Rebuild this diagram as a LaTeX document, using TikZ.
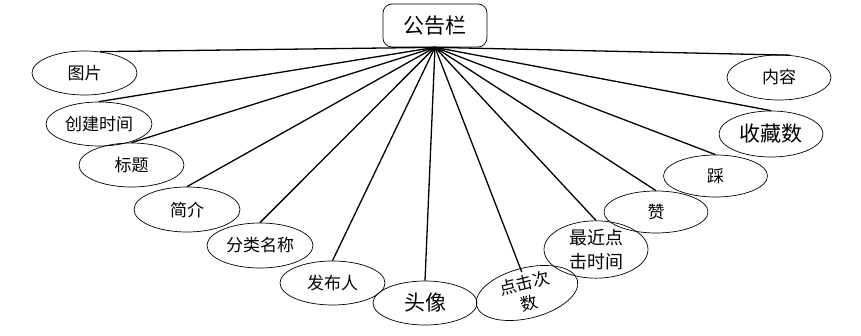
\documentclass[tikz,border=0pt]{standalone}
\usepackage{fontspec}
\newfontfamily\cjk{Noto Sans CJK SC}
\usetikzlibrary{shapes.geometric,calc}
\tikzset{
  attr/.style={draw, ellipse, line width=0.7pt, inner sep=0pt,
    minimum width=104pt, minimum height=44pt,
    font=\cjk\fontsize{17}{20}\selectfont, align=center},
  bigtext/.style={font=\cjk\fontsize{21}{24}\selectfont},
  rootbox/.style={draw, rounded corners=9pt, line width=0.7pt, inner sep=0pt,
    minimum width=104pt, minimum height=43pt,
    font=\cjk\fontsize{21}{24}\selectfont},
  link/.style={line width=1.3pt}
}
\begin{document}
\begin{tikzpicture}[x=1pt,y=-1pt]
\useasboundingbox (0,0) rectangle (861,336);
\node[rootbox] (root) at (435,25.5) {公告栏};
\node[attr, minimum width=105pt] (tp) at (84.5,73) {图片};
\node[attr, minimum width=106pt] (cj) at (99,124) {创建时间};
\node[attr, minimum width=105pt] (bt) at (131.5,165) {标题};
\node[attr, minimum width=106pt, minimum height=45pt] (jj) at (187,209.5) {简介};
\node[attr, minimum width=106pt, minimum height=45pt] (fl) at (260,245.5) {分类名称};
\node[attr, minimum width=105pt] (fb) at (332.5,283) {发布人};
\node[attr, bigtext] (tx) at (425,303) {头像};
\node[attr, minimum height=46pt, rotate=14] (dj) at (527,293) {点击次\\数};
\node[attr, minimum height=45pt, font=\cjk\fontsize{18}{24}\selectfont] (zj) at (596,249.5) {最近点\\击时间};
\node[attr, minimum height=42pt] (zan) at (656,212) {赞};
\node[attr, minimum height=42pt] (cai) at (715.5,176) {踩};
\node[attr, bigtext, minimum height=46pt] (sc) at (771,134) {收藏数};
\node[attr, minimum height=45pt] (nr) at (779,77.5) {内容};
\draw[link] (root.south) -- (tp.54);
\draw[link] (root.south) -- (cj.north);
\draw[link] (root.south) -- (bt.north);
\draw[link] (root.south) -- (jj.north);
\draw[link] (root.south) -- (fl.north);
\draw[link] (root.south) -- (fb.north);
\draw[link] (root.south) -- (tx.north);
\draw[link] (root.south) -- ($(dj.north)!4pt!(dj.center)$);
\draw[link] (root.south) -- (zj.north);
\draw[link] (root.south) -- (zan.north);
\draw[link] (root.south) -- (cai.north);
\draw[link] (root.south) -- (sc.north);
\draw[link] (root.south) -- (nr.63);
\end{tikzpicture}
\end{document}
